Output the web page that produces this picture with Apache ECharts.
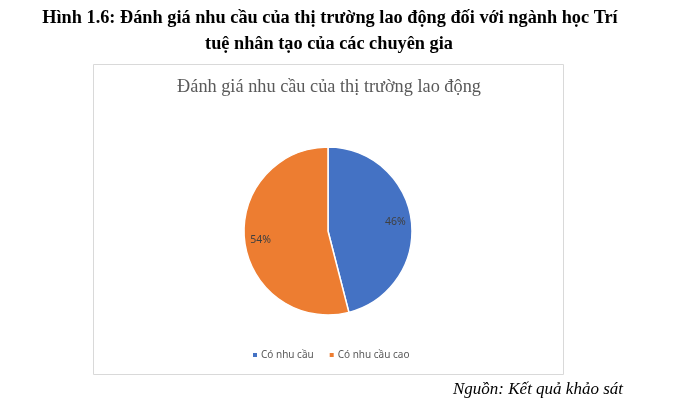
<!DOCTYPE html>
<html lang="vi">
<head>
    <meta charset="UTF-8">
    <title>Hình 1.6</title>
    <script src="https://cdn.jsdelivr.net/npm/echarts@6/dist/echarts.min.js"></script>
    <style>
        html, body { margin: 0; padding: 0; background: #fff; }
        #main { width: 700px; height: 407px; }
    </style>
</head>
<body>
<div id="main"></div>
<script type="text/javascript">
    // du lieu doc tu hinh
    var categories = ['Có nhu cầu', 'Có nhu cầu cao'];
    var values = [46, 54];
    var colors = ['#4472C4', '#ED7D31'];

    var figTitle1 = 'Hình 1.6: Đánh giá nhu cầu của thị trường lao động đối với ngành học Trí';
    var figTitle2 = 'tuệ nhân tạo của các chuyên gia';
    var chartTitle = 'Đánh giá nhu cầu của thị trường lao động';
    var sourceText = 'Nguồn: Kết quả khảo sát';

    var pieData = [];
    var labelData = [];
    for (var i = 0; i < categories.length; i++) {
        pieData.push({name: categories[i], value: values[i], itemStyle: {color: colors[i]}});
        labelData.push({name: categories[i], value: values[i]});
    }

    var myChart = echarts.init(document.getElementById('main'));
    myChart.setOption({
        backgroundColor: '#fff',
        animation: false,
        graphic: [
            {type: 'rect', shape: {x: 93.5, y: 64.5, width: 470, height: 310},
                style: {fill: '#fff', stroke: '#d9d9d9', lineWidth: 1}, z: -1},
            {type: 'text', x: 330, y: 18, style: {text: figTitle1, font: 'bold 18.3px "Liberation Serif"',
                fill: '#000', textAlign: 'center', textVerticalAlign: 'middle'}},
            {type: 'text', x: 329, y: 44, style: {text: figTitle2, font: 'bold 18.3px "Liberation Serif"',
                fill: '#000', textAlign: 'center', textVerticalAlign: 'middle'}},
            {type: 'text', x: 329, y: 87, style: {text: chartTitle, font: '18.3px "Liberation Serif"',
                fill: '#595959', textAlign: 'center', textVerticalAlign: 'middle'}},
            {type: 'text', x: 453, y: 390, style: {text: sourceText, font: 'italic 17px "Liberation Serif"',
                fill: '#000', textAlign: 'left', textVerticalAlign: 'middle'}}
        ],
        legend: {
            data: categories,
            left: 251,
            top: 350,
            padding: 0,
            icon: 'rect',
            itemWidth: 6,
            itemHeight: 6,
            itemGap: 14,
            textStyle: {color: '#595959', fontSize: 10, fontFamily: 'Noto Sans', padding: [0, 0, 0, -2]}
        },
        series: [
            {
                type: 'pie',
                center: [328, 231],
                radius: 84,
                startAngle: 90,
                clockwise: true,
                data: pieData,
                itemStyle: {borderColor: '#fff', borderWidth: 1.5},
                label: {show: false},
                labelLine: {show: false},
                emphasis: {disabled: true}
            },
            {
                // vong trong suot, chi dung de dat nhan o khoang 0.77 ban kinh
                type: 'pie',
                center: [328, 231],
                radius: [60, 70],
                startAngle: 90,
                clockwise: true,
                silent: true,
                data: labelData,
                itemStyle: {color: 'rgba(0,0,0,0)', borderWidth: 0},
                label: {
                    show: true,
                    position: 'inside',
                    color: '#404040',
                    fontSize: 10.5,
                    fontFamily: 'Noto Sans',
                    formatter: function (p) { return Math.round(p.percent) + '%'; }
                },
                labelLine: {show: false},
                emphasis: {disabled: true},
                legendHoverLink: false
            }
        ]
    });
</script>
</body>
</html>
